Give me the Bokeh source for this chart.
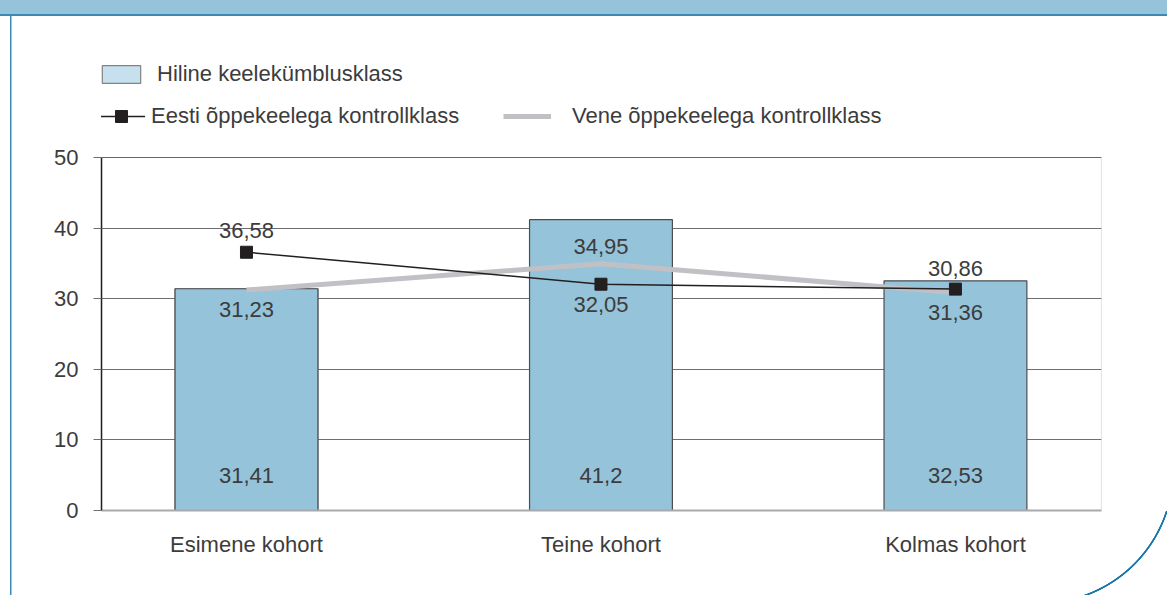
from bokeh.plotting import figure
from bokeh.models import (ColumnDataSource, Range1d, FixedTicker, Legend, LegendItem,
                          InlineStyleSheet, BoxAnnotation, CDSView, IndexFilter)
from bokeh.core.properties import value
from bokeh.embed import file_html
from bokeh.resources import INLINE

# ---- data ----
categories = ["Esimene kohort", "Teine kohort", "Kolmas kohort"]
hiline = [31.41, 41.2, 32.53]          # Hiline keelekümblusklass (bars)
eesti = [36.58, 32.05, 31.36]          # Eesti õppekeelega kontrollklass
vene = [31.23, 34.95, 30.86]           # Vene õppekeelega kontrollklass
yticks = [0, 10, 20, 30, 40, 50]


def fmt(v):
    return f"{v:g}".replace(".", ",")


FONT = "Liberation Sans"
TXT = "#3c3c3c"
FS = "22px"

xs = list(range(len(categories)))
src = ColumnDataSource(dict(
    x=xs, hiline=hiline, eesti=eesti, vene=vene,
    hl=[fmt(v) for v in hiline], el=[fmt(v) for v in eesti], vl=[fmt(v) for v in vene],
    base=[5] * len(xs),
    eoff=[-22, 20, 23], voff=[19, -17, -24],
))

# page decoration (header band, left rule, corner arc) drawn with CSS, out of flow
css = """
:host::after {
  content: "" !important;
  position: fixed !important;
  display: block !important;
  left: 0 !important; top: 0 !important;
  width: 1167px !important; height: 595px !important;
  margin: 0 !important; padding: 0 !important;
  pointer-events: none;
  z-index: 50;
  background-image:
    linear-gradient(#95c3da, #95c3da),
    linear-gradient(#3a8ab4, #3a8ab4),
    linear-gradient(#3a8ab4, #3a8ab4),
    radial-gradient(circle at -8px -41px, transparent 132px, #1a78a8 132.6px, #1a78a8 133.9px, transparent 134.5px);
  background-position: 0 0, 0 14px, 9.5px 16px, 1048px 511px;
  background-size: 1167px 14px, 1167px 2px, 1.5px 579px, 119px 84px;
  background-repeat: no-repeat;
}
"""

# frame spans from the legend area down to 0; the value axis covers 0..50 only
W, H = 1167, 595
TOP, BOTTOM, LEFT, RIGHT = 48, 85, 101, 66
PX_PER_UNIT = 353 / 50
ymax = (H - TOP - BOTTOM) / PX_PER_UNIT

p = figure(width=W, height=H, output_backend="svg", toolbar_location=None,
           x_range=Range1d(-0.409, 2.412), y_range=Range1d(0, ymax),
           min_border_left=LEFT, min_border_right=RIGHT, min_border_top=TOP,
           min_border_bottom=BOTTOM,
           background_fill_color="white", border_fill_color="white",
           stylesheets=[InlineStyleSheet(css=css)])
p.outline_line_color = None

# axes
p.xaxis.ticker = FixedTicker(ticks=xs)
p.xaxis.major_label_overrides = {i: c for i, c in zip(xs, categories)}
p.xaxis.major_tick_line_color = None
p.xaxis.minor_tick_line_color = None
p.xaxis.axis_line_color = "#a7a9ac"
p.xaxis.axis_line_width = 2
p.xaxis.major_label_standoff = 15
p.xaxis.major_label_text_font = FONT
p.xaxis.major_label_text_font_size = FS
p.xaxis.major_label_text_color = TXT
p.xgrid.visible = False

p.yaxis.ticker = FixedTicker(ticks=yticks)
p.yaxis.bounds = (yticks[0], yticks[-1])
p.yaxis.minor_tick_line_color = None
p.yaxis.major_tick_out = 8
p.yaxis.major_tick_in = 0
p.yaxis.major_tick_line_color = "#6d6e71"
p.yaxis.axis_line_color = "#231f20"
p.yaxis.axis_line_width = 1.5
p.yaxis.major_label_standoff = 15
p.yaxis.major_label_text_font = FONT
p.yaxis.major_label_text_font_size = FS
p.yaxis.major_label_text_color = TXT
p.ygrid.grid_line_color = "#6d6e71"
p.ygrid.grid_line_width = 1.2

# plot-area border (top and right edges of the 0..50 area)
p.add_layout(BoxAnnotation(bottom=-1, top=yticks[-1], fill_color=None,
                           line_color="#58595b", line_width=1.2, level="underlay"))

# legend proxy for the bars (lighter swatch); fully covered by the real first bar
lb = p.vbar(x="x", top="hiline", width=0.403, source=src,
            view=CDSView(filter=IndexFilter([0])),
            fill_color="#c6e1ed", line_color="#808285", line_width=1.2)

# bars
p.vbar(x="x", top="hiline", width=0.403, source=src, fill_color="#95c3da",
       line_color="#4d4d4f", line_width=1.2)
# lines
lv = p.line("x", "vene", source=src, line_color="#c1c1c5", line_width=5)
le = p.line("x", "eesti", source=src, line_color="#231f20", line_width=1.5)
me = p.scatter("x", "eesti", source=src, marker="square", size=12,
               fill_color="#231f20", line_color="#231f20")

# value labels
common = dict(text_align="center", text_baseline="middle", text_font=value(FONT),
              text_font_size=FS, text_color=TXT)
p.text(x="x", y="base", text="hl", source=src, **common)
p.text(x="x", y="eesti", text="el", y_offset="eoff", source=src, **common)
p.text(x="x", y="vene", text="vl", y_offset="voff", source=src, **common)

# legends (inside the upper, empty part of the frame)
lkw = dict(padding=0, margin=0, border_line_color=None, background_fill_alpha=0,
           label_text_font=FONT, label_text_font_size=FS, label_text_color=TXT,
           glyph_width=48)
leg_h = Legend(items=[LegendItem(label="Hiline keelekümblusklass", renderers=[lb])],
               location=(-4, 423), glyph_height=22, label_height=22, label_standoff=12, **lkw)
leg_e = Legend(items=[LegendItem(label="Eesti õppekeelega kontrollklass", renderers=[le, me])],
               location=(-4, 379), glyph_height=30, label_height=30, label_standoff=6, **lkw)
leg_v = Legend(items=[LegendItem(label="Vene õppekeelega kontrollklass", renderers=[lv])],
               location=(402, 381), glyph_height=26, label_height=26, label_standoff=21, **lkw)
for lg in (leg_h, leg_e, leg_v):
    p.add_layout(lg)

open("out.html", "w").write(file_html(p, INLINE))
